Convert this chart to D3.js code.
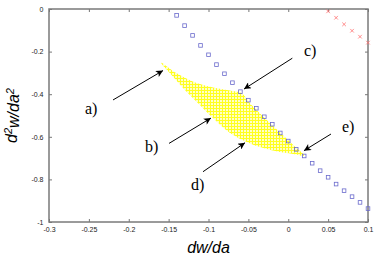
<!DOCTYPE html>
<html><head><meta charset="utf-8">
<script src="https://cdn.jsdelivr.net/npm/d3@7/dist/d3.min.js"></script>
<style>body{margin:0;background:#fff}svg{display:block}</style>
</head><body><svg id="c" width="382" height="267"></svg>
<script>
// ---- data ----
const xTicks = [-0.3,-0.25,-0.2,-0.15,-0.1,-0.05,0,0.05,0.1];
const xTickLabels = ["-0.3","-0.25","-0.2","-0.15","-0.1","-0.05","0","0.05","0.1"];
const yTicks = [0,-0.2,-0.4,-0.6,-0.8,-1];
const yTickLabels = ["0","-0.2","-0.4","-0.6","-0.8","-1"];

const blueX = [-0.14,-0.13,-0.12,-0.11,-0.10,-0.09,-0.08,-0.07,-0.06,-0.05,-0.04,-0.03,-0.02,-0.01,0.00,0.01,0.02,0.03,0.04,0.05,0.06,0.07,0.08,0.09,0.10];
const blueY = [-0.030,-0.078,-0.124,-0.171,-0.215,-0.261,-0.304,-0.346,-0.388,-0.428,-0.466,-0.506,-0.541,-0.582,-0.620,-0.659,-0.690,-0.724,-0.759,-0.790,-0.822,-0.853,-0.881,-0.908,-0.937];

const redX = [0.05,0.06,0.07,0.08,0.09,0.10];
const redY = [-0.011,-0.041,-0.072,-0.102,-0.130,-0.158];

// yellow region boundary (upper edge left->right, then lower edge right->left)
const regionX = [-0.1596,-0.1399,-0.1191,-0.0981,-0.0772,-0.0584,-0.048,-0.0313,-0.0103,0.0106,0.0197,
                 0.0189,0.0106,-0.0103,-0.0313,-0.0521,-0.073,-0.094,-0.1107,-0.1316,-0.1483];
const regionY = [-0.251,-0.302,-0.341,-0.365,-0.380,-0.396,-0.443,-0.506,-0.580,-0.654,-0.685,
                 -0.690,-0.683,-0.671,-0.653,-0.624,-0.582,-0.513,-0.451,-0.372,-0.302];

const labels = ["a)","b)","c)","d)","e)"];
const labelX = [-0.2549,-0.1796,0.0197,-0.122,0.0674];
const labelY = [-0.493,-0.671,-0.221,-0.850,-0.577];
const arrowX0 = [-0.2197,-0.1495,0.0051,-0.1069,0.0536];
const arrowY0 = [-0.427,-0.631,-0.231,-0.764,-0.587];
const arrowX1 = [-0.157,-0.0969,-0.0555,-0.0542,0.0197];
const arrowY1 = [-0.289,-0.512,-0.376,-0.628,-0.665];

// ---- chart ----
const svg = d3.select("#c");
const L=49,R=368,T=9,B=222;
const x = d3.scaleLinear().domain([-0.3,0.1]).range([L,R]);
const y = d3.scaleLinear().domain([-1,0]).range([B,T]);

const defs = svg.append("defs");
const pat = defs.append("pattern").attr("id","hatch").attr("patternUnits","userSpaceOnUse")
  .attr("width",3).attr("height",3);
pat.append("rect").attr("width",3).attr("height",3).attr("fill","#ffffc8");
pat.append("path").attr("d","M0,0.5H3M0.5,0V3").attr("stroke","#ffff20").attr("stroke-width",1);
defs.append("marker").attr("id","ah").attr("viewBox","0 0 10 10").attr("refX",10).attr("refY",5)
  .attr("markerUnits","userSpaceOnUse").attr("markerWidth",10).attr("markerHeight",7)
  .attr("orient","auto").append("path").attr("d","M0,0L10,5L0,10L2.5,5Z").attr("fill","#000");

// region
const reg = regionX.map((v,i)=>[x(v),y(regionY[i])]);
svg.append("path").attr("d", d3.line().curve(d3.curveCatmullRomClosed)(reg))
  .attr("fill","url(#hatch)").attr("stroke","none");

// axes
const fmtX = d=>xTickLabels[xTicks.indexOf(d)];
const fmtY = d=>yTickLabels[yTicks.indexOf(d)];
function style(g){
  g.select(".domain").remove();
  g.selectAll(".tick line").attr("stroke","#777");
  g.selectAll(".tick text").attr("fill","#222").style("font-family","Liberation Sans, Arial, sans-serif").style("font-size","7px");
}
svg.append("g").attr("transform",`translate(0,${B})`).call(d3.axisBottom(x).tickValues(xTicks).tickFormat(fmtX).tickSize(-3).tickPadding(5.5)).call(style);
svg.append("g").attr("transform",`translate(${L},0)`).call(d3.axisLeft(y).tickValues(yTicks).tickFormat(fmtY).tickSize(-3).tickPadding(5.5)).call(style);
svg.append("g").attr("transform",`translate(0,${T})`).call(d3.axisTop(x).tickValues(xTicks).tickFormat("").tickSize(-3)).call(style);
svg.append("g").attr("transform",`translate(${R},0)`).call(d3.axisRight(y).tickValues(yTicks).tickFormat("").tickSize(-3)).call(style);
svg.append("rect").attr("x",L).attr("y",T).attr("width",R-L).attr("height",B-T)
  .attr("fill","none").attr("stroke","#7a7a7a").attr("stroke-width",1.5);

// blue squares
const s=3.6;
svg.append("g").selectAll("rect").data(blueX).join("rect")
  .attr("x",(d)=>x(d)-s/2).attr("y",(d,i)=>y(blueY[i])-s/2).attr("width",s).attr("height",s)
  .attr("fill","none").attr("stroke","#6a6acc").attr("stroke-width",0.8);

// red crosses
const c=1.8;
svg.append("g").selectAll("path").data(redX).join("path")
  .attr("d",(d,i)=>{const px=x(d),py=y(redY[i]);return `M${px-c},${py-c}L${px+c},${py+c}M${px-c},${py+c}L${px+c},${py-c}`;})
  .attr("stroke","#ff7070").attr("stroke-width",0.8);

// arrows
svg.append("g").selectAll("line").data(labels).join("line")
  .attr("x1",(d,i)=>x(arrowX0[i])).attr("y1",(d,i)=>y(arrowY0[i]))
  .attr("x2",(d,i)=>x(arrowX1[i])).attr("y2",(d,i)=>y(arrowY1[i]))
  .attr("stroke","#000").attr("stroke-width",1).attr("marker-end","url(#ah)");

svg.append("g").selectAll("text").data(labels).join("text")
  .attr("x",(d,i)=>x(labelX[i])).attr("y",(d,i)=>y(labelY[i]))
  .text(d=>d).attr("fill","#000")
  .style("font-family","Liberation Serif, Times New Roman, serif").style("font-size","16px");

// axis titles
svg.append("text").attr("x",(L+R)/2).attr("y",253).attr("text-anchor","middle")
  .style("font-family","Liberation Sans, Arial, sans-serif").style("font-size","16px").style("font-style","italic")
  .text("dw/da");
const yl = svg.append("text").attr("transform",`translate(17,${(T+B)/2}) rotate(-90)`).attr("text-anchor","middle")
  .style("font-family","Liberation Sans, Arial, sans-serif").style("font-size","16px").style("font-style","italic");
yl.append("tspan").text("d");
yl.append("tspan").text("2").attr("dy","-0.45em").style("font-size","11px");
yl.append("tspan").text("w/da").attr("dy","0.45em");
yl.append("tspan").text("2").attr("dy","-0.45em").style("font-size","11px");
</script></body></html>
